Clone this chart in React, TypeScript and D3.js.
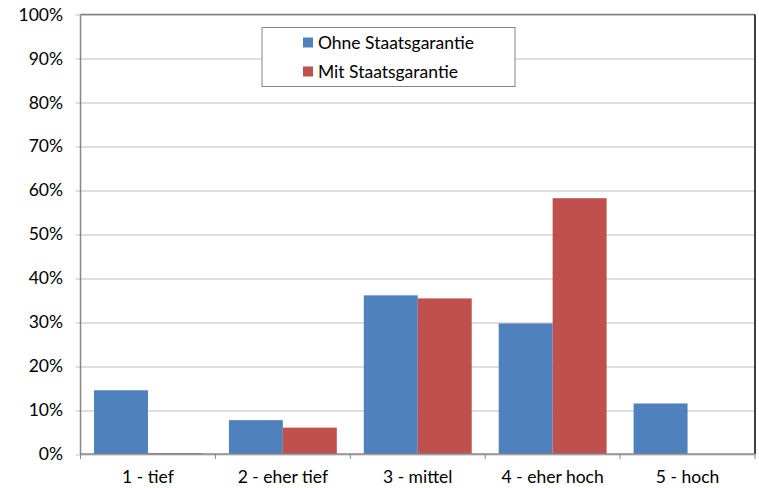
import * as React from "react";
import * as d3 from "d3";

const categories = ["1 - tief", "2 - eher tief", "3 - mittel", "4 - eher hoch", "5 - hoch"];
const seriesNames = ["Ohne Staatsgarantie", "Mit Staatsgarantie"];
const ohneValues = [14.5, 7.7, 36.1, 29.7, 11.5];
const mitValues = [0.2, 6.0, 35.4, 58.2, 0];
const colors = ["#4F81BD", "#C0504D"];
const yTicks = [0, 10, 20, 30, 40, 50, 60, 70, 80, 90, 100];

const W = 759, H = 488;
const margin = {top: 14.5, right: 4, bottom: 34, left: 80.5};

export default function App() {
  const ref = React.useRef<SVGSVGElement>(null);

  React.useEffect(() => {
    const svg = d3.select(ref.current);
    svg.selectAll("*").remove();

    const width = W - margin.left - margin.right;
    const height = H - margin.top - margin.bottom;
    const font = "Lato, 'Open Sans', sans-serif";
    const fs = 17.5;

    const x = d3.scaleBand().domain(categories).range([0, width]).paddingInner(0.2).paddingOuter(0.1);
    const x1 = d3.scaleBand().domain(seriesNames).range([0, x.bandwidth()]);
    const y = d3.scaleLinear().domain([0, 100]).range([height, 0]);
    const step = width / categories.length;

    const g = svg.append("g").attr("transform", `translate(${margin.left},${margin.top})`);

    // gridlines
    g.selectAll("line.grid").data(yTicks).enter().append("line")
      .attr("x1", -5).attr("x2", width)
      .attr("y1", d => Math.round(y(d)) + 0.5).attr("y2", d => Math.round(y(d)) + 0.5)
      .attr("stroke", "#BFBFBF").attr("stroke-width", 1);

    // y labels
    g.selectAll("text.ylab").data(yTicks).enter().append("text")
      .attr("x", -17.5).attr("y", d => y(d))
      .attr("dy", "0.35em").attr("text-anchor", "end")
      .attr("font-family", font).attr("font-size", fs).attr("fill", "#000")
      .text(d => d + "%");

    // bars
    const data = categories.map((c, i) => ({c, vals: [ohneValues[i], mitValues[i]]}));
    const groups = g.selectAll("g.cat").data(data).enter().append("g")
      .attr("transform", d => `translate(${x(d.c)},0)`);
    groups.selectAll("rect").data(d => d.vals.map((v, j) => ({v, s: seriesNames[j], j}))).enter()
      .append("rect")
      .attr("x", d => x1(d.s)!)
      .attr("width", x1.bandwidth())
      .attr("y", d => y(d.v))
      .attr("height", d => height - y(d.v))
      .attr("fill", d => colors[d.j]);

    // plot border: top gray, right black
    g.append("line").attr("x1", 0).attr("x2", width).attr("y1", 0).attr("y2", 0)
      .attr("stroke", "#7F7F7F").attr("stroke-width", 1.5);
    g.append("line").attr("x1", width).attr("x2", width).attr("y1", 0).attr("y2", height)
      .attr("stroke", "#000").attr("stroke-width", 1.5);

    // axes
    g.append("line").attr("x1", 0).attr("x2", 0).attr("y1", 0).attr("y2", height)
      .attr("stroke", "#868686").attr("stroke-width", 1.5);
    g.append("line").attr("x1", 0).attr("x2", width).attr("y1", height).attr("y2", height)
      .attr("stroke", "#868686").attr("stroke-width", 1.5);
    g.selectAll("line.xtick").data(d3.range(categories.length + 1)).enter().append("line")
      .attr("x1", d => d * step).attr("x2", d => d * step)
      .attr("y1", height).attr("y2", height + 5)
      .attr("stroke", "#868686").attr("stroke-width", 1);

    // x labels
    g.selectAll("text.xlab").data(categories).enter().append("text")
      .attr("x", d => x(d)! + x.bandwidth() / 2).attr("y", height + 23)
      .attr("dy", "0.35em").attr("text-anchor", "middle")
      .attr("font-family", font).attr("font-size", fs).attr("fill", "#000")
      .text(d => d);

    // legend
    const lg = svg.append("g").attr("transform", "translate(262,27.5)");
    lg.append("rect").attr("width", 253).attr("height", 59)
      .attr("fill", "#fff").attr("stroke", "#868686").attr("stroke-width", 1);
    seriesNames.forEach((s, i) => {
      const row = lg.append("g").attr("transform", `translate(0,${15 + i * 29})`);
      row.append("rect").attr("x", 41).attr("y", -5).attr("width", 10).attr("height", 10).attr("fill", colors[i]);
      row.append("text").attr("x", 56).attr("y", 0).attr("dy", "0.35em")
        .attr("font-family", font).attr("font-size", fs).attr("fill", "#000").text(s);
    });
  }, []);

  return <svg ref={ref} width={W} height={H} style={{position: "absolute", left: 0, top: 0}} />;
}
